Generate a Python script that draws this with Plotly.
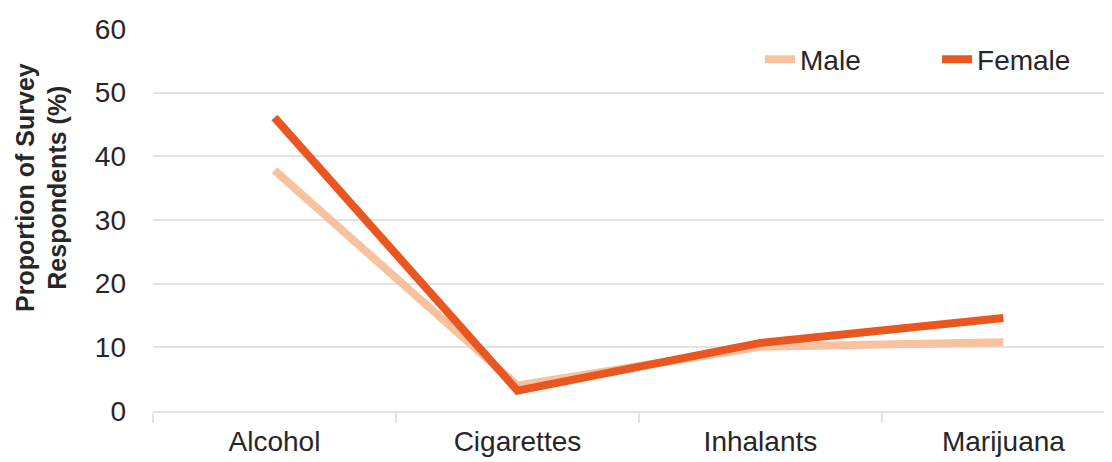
import plotly.graph_objects as go

categories = ["Alcohol", "Cigarettes", "Inhalants", "Marijuana"]
male = [37.8, 4.0, 10.1, 10.8]
female = [46.1, 3.2, 10.7, 14.6]
y_ticks = [0, 10, 20, 30, 40, 50, 60]
y_title = "<b>Proportion of Survey<br>Respondents (%)</b>"

MALE_COLOR = "#F8C2A0"
FEMALE_COLOR = "#E9561F"
TEXT = "#262626"
GRID = "#E3E3E3"
FONT = "Liberation Sans, Arial, sans-serif"

fig = go.Figure()
fig.add_trace(go.Scatter(x=categories, y=male, name="Male", mode="lines",
                         line=dict(color=MALE_COLOR, width=8)))
fig.add_trace(go.Scatter(x=categories, y=female, name="Female", mode="lines",
                         line=dict(color=FEMALE_COLOR, width=8)))

fig.add_annotation(text=y_title, xref="paper", yref="paper", x=-0.117, y=0.586,
                   xanchor="center", yanchor="middle", textangle=-90, showarrow=False,
                   borderpad=0, font=dict(size=25, color=TEXT, family=FONT))

fig.update_layout(
    width=1104, height=454,
    margin=dict(l=145, r=0, t=21, b=51, autoexpand=False),
    paper_bgcolor="white", plot_bgcolor="white",
    font=dict(family=FONT, color=TEXT, size=28),
    showlegend=True,
    legend=dict(orientation="h", x=0.633, xanchor="left", y=0.92, yanchor="middle",
                font=dict(size=28, color=TEXT), bgcolor="rgba(0,0,0,0)",
                entrywidth=132, entrywidthmode="pixels", itemwidth=30),
    xaxis=dict(
        type="category", range=[-0.5, 3.447], automargin=False,
        showgrid=False, showline=True, linecolor=GRID, linewidth=2,
        ticks="outside", tickson="boundaries", ticklen=10, tickcolor=GRID, tickwidth=2,
        tickfont=dict(size=28, color=TEXT), ticklabelstandoff=4,
    ),
    yaxis=dict(
        range=[0, 60], tickvals=y_ticks, showgrid=True, gridcolor=GRID, gridwidth=2,
        zeroline=False, showline=False, ticks="", automargin=False,
        tickfont=dict(size=28, color=TEXT), ticklabelstandoff=26,
    ),
)

fig.write_html("out.html")
